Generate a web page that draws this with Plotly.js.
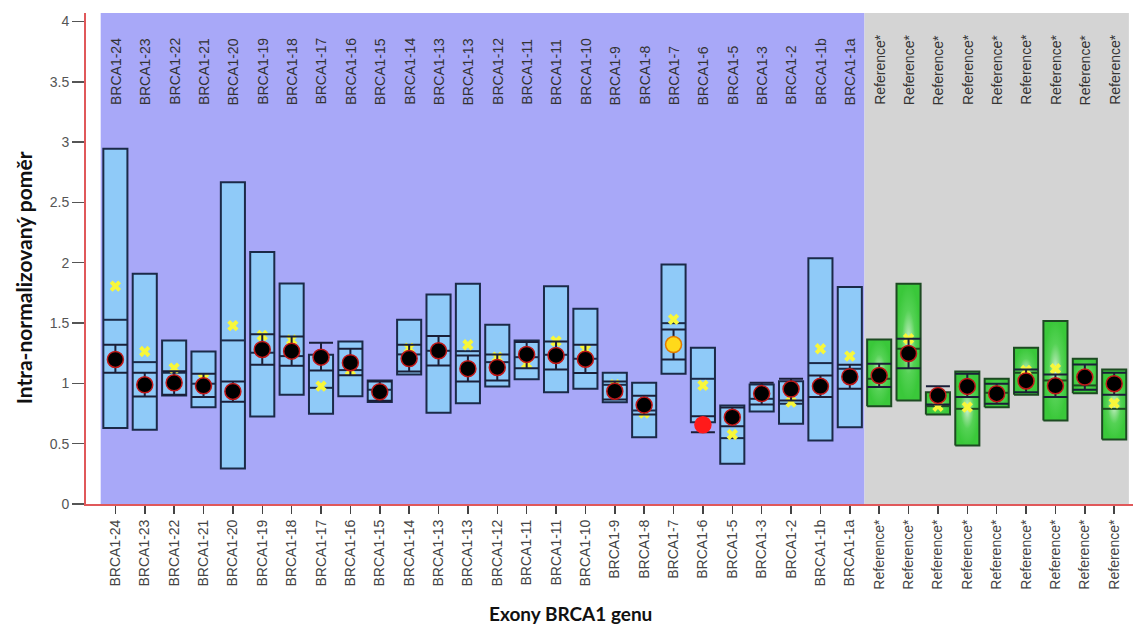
<!DOCTYPE html>
<html>
<head>
<meta charset="utf-8">
<script src="https://cdn.plot.ly/plotly-3.0.1.min.js"></script>
<style>
  html, body { margin: 0; padding: 0; background: #ffffff; }
  #chart { width: 1133px; height: 626px; }
</style>
</head>
<body>
<div id="chart"></div>
<script>
// Exon labels (BRCA1 probes, then reference probes)
const labels = [
  'BRCA1-24','BRCA1-23','BRCA1-22','BRCA1-21','BRCA1-20','BRCA1-19','BRCA1-18','BRCA1-17',
  'BRCA1-16','BRCA1-15','BRCA1-14','BRCA1-13','BRCA1-13','BRCA1-12','BRCA1-11','BRCA1-11',
  'BRCA1-10','BRCA1-9','BRCA1-8','BRCA1-7','BRCA1-6','BRCA1-5','BRCA1-3','BRCA1-2',
  'BRCA1-1b','BRCA1-1a',
  'Reference*','Reference*','Reference*','Reference*','Reference*','Reference*',
  'Reference*','Reference*','Reference*'
];
// Probe group: 'target' = BRCA1 exon, 'reference' = reference probe
const group = labels.map(l => l.startsWith('Reference') ? 'reference' : 'target');

// Reference range of the control samples (box bottom / top)
const rangeLow = [0.63,0.615,0.90,0.803,0.294,0.726,0.905,0.748,0.894,0.846,1.074,0.756,0.836,
  0.974,1.035,0.927,0.955,0.844,0.554,1.08,0.678,0.333,0.767,0.665,0.527,0.637,
  0.811,0.858,0.742,0.485,0.803,0.905,0.692,0.919,0.535];
const rangeHigh = [2.945,1.909,1.356,1.264,2.668,2.088,1.828,1.237,1.347,1.024,1.527,1.737,1.826,
  1.486,1.356,1.806,1.618,1.088,1.005,1.986,1.295,0.817,0.991,1.018,2.038,1.798,
  1.364,1.826,0.927,1.099,1.038,1.295,1.516,1.204,1.115];
// Additional reference level drawn across each box
const refLevel = [1.527,1.176,1.088,0.997,1.356,1.254,1.226,0.963,1.11,0.947,1.24,1.27,1.267,
  1.176,1.217,1.237,1.204,0.988,0.775,1.499,1.038,0.546,0.872,0.831,1.168,1.121,
  1.038,1.287,0.811,0.789,0.922,1.088,1.024,0.983,0.789];

// Sample intra-normalized ratio with its confidence limits
const sampleRatio = [1.198,0.988,1.005,0.98,0.933,1.281,1.267,1.217,1.171,0.93,1.206,1.27,1.122,
  1.132,1.24,1.231,1.2,0.935,0.82,1.322,0.657,0.72,0.915,0.953,0.976,1.055,
  1.065,1.248,0.9,0.975,0.914,1.02,0.98,1.052,0.997];
const sampleLow = [1.088,0.891,0.905,0.886,0.847,1.154,1.146,1.107,1.068,0.855,1.099,1.148,1.016,
  1.024,1.126,1.115,1.085,0.867,0.742,1.198,0.595,0.645,0.825,0.858,0.886,0.955,
  0.969,1.126,0.825,0.886,0.831,0.927,0.886,0.947,0.905];
const sampleHigh = [1.32,1.088,1.10,1.08,1.016,1.408,1.389,1.337,1.287,1.015,1.32,1.392,1.231,
  1.24,1.342,1.347,1.32,1.016,0.897,1.447,0.728,0.80,1.005,1.038,1.066,1.154,
  1.162,1.37,0.977,1.08,0.997,1.115,1.074,1.157,1.088];
// Call for each probe: 'normal', 'gain' or 'loss'
const sampleCall = labels.map(() => 'normal');
sampleCall[19] = 'gain';
sampleCall[20] = 'loss';

// Second estimate of the ratio (marked with a cross)
const altRatio = [1.806,1.264,1.126,1.04,1.478,1.397,1.36,0.977,1.107,0.93,1.292,1.27,1.32,
  1.217,1.163,1.35,1.281,0.99,0.753,1.53,0.983,0.576,0.925,0.844,1.287,1.226,
  1.06,1.37,0.81,0.803,0.914,1.107,1.121,1.05,0.836];

const yTicks = [0, 0.5, 1, 1.5, 2, 2.5, 3, 3.5, 4];

// ---- drawing ----
const idx = labels.map((_, i) => i);
const HALF = 0.41;                  // half width of a box, in category units
const target = idx.filter(i => group[i] === 'target');
const reference = idx.filter(i => group[i] === 'reference');

const traces = [];

// BRCA1 boxes
traces.push({
  type: 'bar',
  x: target,
  base: target.map(i => rangeLow[i]),
  y: target.map(i => rangeHigh[i] - rangeLow[i]),
  width: 2 * HALF,
  marker: { color: '#8fcaf8', line: { color: '#1b2a48', width: 2 } },
  hoverinfo: 'skip', showlegend: false
});

// Reference boxes with a soft green glow
reference.forEach(i => {
  traces.push({
    type: 'scatter', mode: 'lines',
    x: [i - HALF, i + HALF, i + HALF, i - HALF, i - HALF],
    y: [rangeLow[i], rangeLow[i], rangeHigh[i], rangeHigh[i], rangeLow[i]],
    fill: 'toself',
    fillgradient: {
      type: 'radial',
      colorscale: [[0, '#d6f4d6'], [0.25, '#96e296'], [0.55, '#55d255'], [1, '#3ac83a']]
    },
    line: { color: '#1d4a22', width: 2 },
    hoverinfo: 'skip', showlegend: false
  });
});

// Reference level lines across each box
function levelLines(list, color) {
  const xs = [], ys = [];
  list.forEach(i => {
    xs.push(i - HALF, i + HALF, null);
    ys.push(refLevel[i], refLevel[i], null);
  });
  return {
    type: 'scatter', mode: 'lines', x: xs, y: ys,
    line: { color: color, width: 2 },
    hoverinfo: 'skip', showlegend: false
  };
}
traces.push(levelLines(target, '#1b2a48'));
traces.push(levelLines(reference, '#1d4a22'));

// Crosses
traces.push({
  type: 'scatter', mode: 'markers',
  x: idx, y: altRatio,
  marker: { symbol: 'x', size: 10, color: '#f7f73a', line: { width: 0 } },
  hoverinfo: 'skip', showlegend: false
});

// Sample ratio with confidence limits
const fillFor = { normal: '#000000', gain: '#ffd91a', loss: '#ff1a1a' };
const edgeFor = { normal: '#c01818', gain: '#e07a00', loss: '#ff1a1a' };
traces.push({
  type: 'scatter', mode: 'markers',
  x: idx, y: sampleRatio,
  error_y: {
    type: 'data', symmetric: false,
    array: idx.map(i => sampleHigh[i] - sampleRatio[i]),
    arrayminus: idx.map(i => sampleRatio[i] - sampleLow[i]),
    color: '#1a1f38', thickness: 2, width: 12
  },
  marker: {
    size: 16,
    color: sampleCall.map(c => fillFor[c]),
    line: { color: sampleCall.map(c => edgeFor[c]), width: 1.5 }
  },
  hoverinfo: 'skip', showlegend: false
});

// Probe names along the top of the plot
const topLabels = idx.map(i => ({
  x: i, y: 3.29, xref: 'x', yref: 'y',
  text: labels[i], textangle: -90,
  xanchor: 'center', yanchor: 'bottom',
  showarrow: false,
  font: { family: 'Liberation Sans, Arial, sans-serif', size: 14, color: '#333333' }
}));

const layout = {
  width: 1133, height: 626,
  margin: { l: 86, r: 0, t: 13, b: 122 },
  paper_bgcolor: '#ffffff', plot_bgcolor: '#ffffff',
  font: { family: 'Liberation Sans, Arial, sans-serif', size: 14, color: '#444444' },
  barmode: 'overlay',
  xaxis: {
    range: [-1, 34.64],
    tickmode: 'array', tickvals: idx, ticktext: labels,
    tickangle: -90,
    ticks: 'outside', ticklen: 8, tickwidth: 1.5, tickcolor: '#444444',
    showline: true, linecolor: '#e0585a', linewidth: 2,
    showgrid: false, zeroline: false,
    tickfont: { family: 'Liberation Sans, Arial, sans-serif', size: 14, color: '#444444' },
    fixedrange: true
  },
  yaxis: {
    range: [0, 4.07],
    tickmode: 'array', tickvals: yTicks, ticktext: yTicks.map(String),
    ticks: 'outside', ticklen: 12, tickwidth: 1.5, tickcolor: '#555555',
    showline: true, linecolor: '#e0585a', linewidth: 2,
    showgrid: false, zeroline: false,
    tickfont: { family: 'Liberation Sans, Arial, sans-serif', size: 14, color: '#555555' },
    fixedrange: true
  },
  shapes: [
    { type: 'rect', xref: 'x', yref: 'paper', x0: -0.5, x1: 25.5, y0: 0, y1: 1,
      fillcolor: '#a8a8f8', line: { width: 0 }, layer: 'below' },
    { type: 'rect', xref: 'x', yref: 'paper', x0: 25.5, x1: 34.5, y0: 0, y1: 1,
      fillcolor: '#d4d4d4', line: { width: 0 }, layer: 'below' }
  ],
  annotations: topLabels.concat([
    { xref: 'paper', yref: 'paper', x: 0.463, y: -0.222,
      xanchor: 'center', yanchor: 'middle', showarrow: false,
      text: 'Exony BRCA1 genu',
      font: { family: 'Lato, Open Sans, sans-serif', size: 19, color: '#111111', weight: 'bold' } },
    { xref: 'paper', yref: 'paper', x: -0.06, y: 0.46,
      xanchor: 'center', yanchor: 'middle', showarrow: false, textangle: -90,
      text: 'Intra-normalizovaný poměr',
      font: { family: 'Lato, Open Sans, sans-serif', size: 21, color: '#111111', weight: 'bold' } }
  ])
};

Plotly.newPlot('chart', traces, layout, { displayModeBar: false, staticPlot: true });
</script>
</body>
</html>
